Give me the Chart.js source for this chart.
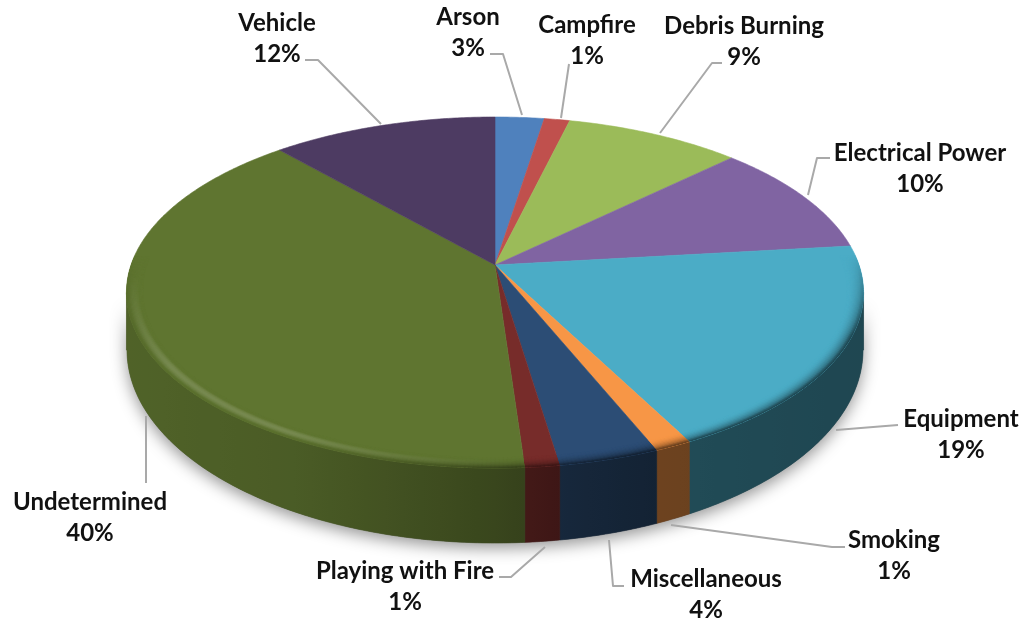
<!DOCTYPE html>
<html>
<head>
<meta charset="utf-8">
<style>
  html, body { margin: 0; padding: 0; background: #fff; }
  canvas { display: block; }
</style>
<script src="https://cdn.jsdelivr.net/npm/chart.js@4"></script>
</head>
<body>
<canvas id="chart" width="1028" height="622"></canvas>
<script>
const categories = ['Arson', 'Campfire', 'Debris Burning', 'Electrical Power', 'Equipment', 'Smoking', 'Miscellaneous', 'Playing with Fire', 'Undetermined', 'Vehicle'];
const shares = [2.5, 1.3, 9, 10.4, 19.2, 1.4, 3.8, 1.3, 39.6, 11.5];
const percentLabels = ['3%', '1%', '9%', '10%', '19%', '1%', '4%', '1%', '40%', '12%'];

const sliceColors = ['#4f81bd', '#c0504d', '#9bbb59', '#8064a2', '#4bacc6', '#f79646', '#2c4d75', '#772c2a', '#5f7530', '#4d3b62'];

// label centre x, baseline of the first line, then the leader polyline
const labelLayout = [
    { x: 468, y: 25, line: [[490, 54], [503, 54], [522, 115]] },
    { x: 587, y: 33, line: [[569, 64], [561, 118]] },
    { x: 744, y: 34, line: [[722, 63], [712, 63], [660, 133]] },
    { x: 920, y: 161, line: [[830, 158], [817, 158], [808, 195]] },
    { x: 961, y: 427, line: [[898, 425], [836, 430]] },
    { x: 894, y: 548, line: [[845, 547], [832, 547], [671, 525]] },
    { x: 706, y: 587, line: [[624, 586], [613, 586], [609, 540]] },
    { x: 405, y: 579, line: [[499, 577], [511, 577], [545, 547]] },
    { x: 90, y: 510, line: [[146, 483], [146, 416]] },
    { x: 277, y: 31, line: [[305, 60], [318, 60], [381, 124]] }
];

function hexRgb(hex) {
    return [1, 3, 5].map(i => parseInt(hex.substr(i, 2), 16));
}
function mix(a, b, t) {
    return a.map((c, i) => c + (b[i] - c) * t);
}
function css(c) {
    return `rgb(${c.map(Math.round).join(',')})`;
}
function clamp(v) {
    return Math.max(0, Math.min(1, v));
}

// perspective of the tilted disc: unit circle to screen
const persp = { a: 0.646, c: -0.1567, sx: 1.3736 };
const floorEllipse = { cy: 350, rx: 368, ry: 193 };
const frontFrom = 9 * Math.PI / 180;
const frontTo = 171 * Math.PI / 180;

function project(arc, angle, r) {
    const u = Math.cos(angle) * r, v = Math.sin(angle) * r;
    const w = 1 + persp.c * v;
    return [arc.x + arc.outerRadius * persp.sx * u / w, arc.y + arc.outerRadius * persp.a * v / w];
}
function floorPoint(arc, angle) {
    const p = project(arc, angle, 1);
    const d = clamp(Math.abs(p[0] - arc.x) / floorEllipse.rx);
    return [p[0], floorEllipse.cy + floorEllipse.ry * Math.sqrt(1 - d * d)];
}
function sampleAngles(from, to) {
    const n = Math.max(2, Math.ceil((to - from) / 0.01));
    const out = [];
    for (let i = 0; i <= n; i++) out.push(from + (to - from) * i / n);
    return out;
}
function wallShade(x) {
    // side wall brightness read across the picture
    const stops = [[127, 0.84], [300, 0.78], [450, 0.64], [530, 0.56], [570, 0.5], [660, 0.44], [863, 0.41]];
    for (let i = 1; i < stops.length; i++) {
        if (x <= stops[i][0]) {
            const t = (x - stops[i - 1][0]) / (stops[i][0] - stops[i - 1][0]);
            return stops[i - 1][1] + (stops[i][1] - stops[i - 1][1]) * clamp(t);
        }
    }
    return 0.41;
}

function drawWall(ctx, arc, color) {
    const from = Math.max(arc.startAngle, frontFrom), to = Math.min(arc.endAngle, frontTo);
    if (to <= from) return;
    const angles = sampleAngles(from, to);
    const base = hexRgb(color);
    const grad = ctx.createLinearGradient(127, 0, 863, 0);
    for (let i = 0; i <= 40; i++) {
        const x = 127 + 736 * i / 40;
        grad.addColorStop(i / 40, css(base.map(c => c * wallShade(x))));
    }
    ctx.beginPath();
    angles.forEach((a, i) => {
        const p = project(arc, a, 1);
        if (i) ctx.lineTo(p[0], p[1]); else ctx.moveTo(p[0], p[1]);
    });
    angles.slice().reverse().forEach(a => {
        const p = floorPoint(arc, a);
        ctx.lineTo(p[0], p[1]);
    });
    ctx.closePath();
    ctx.fillStyle = grad;
    ctx.strokeStyle = grad;
    ctx.lineWidth = 0.6;
    ctx.fill();
    ctx.stroke();
}

function slicePath(ctx, arc) {
    ctx.beginPath();
    const c = project(arc, 0, 0);
    ctx.moveTo(c[0], c[1]);
    sampleAngles(arc.startAngle, arc.endAngle).forEach(a => {
        const p = project(arc, a, 1);
        ctx.lineTo(p[0], p[1]);
    });
    ctx.closePath();
}

function drawRim(ctx, arc, color) {
    const base = hexRgb(color);
    const rings = 14;
    ctx.save();
    slicePath(ctx, arc);
    ctx.clip();
    ctx.lineWidth = 1.7;
    ctx.lineCap = 'round';
    const angles = sampleAngles(arc.startAngle, arc.endAngle);
    for (let k = 0; k <= rings; k++) {
        const t = k / rings;
        const r = 0.958 + 0.042 * t;
        for (let i = 1; i < angles.length; i += 1) {
            const mid = angles[i];
            const u = Math.cos(mid), v = Math.sin(mid);
            const front = clamp((v + 0.05) / 0.45);
            if (front <= 0) continue;
            const hi = clamp((-u + 0.05) / 0.55) * clamp((v - 0.05) / 0.5);
            const bump = Math.sin(Math.PI * clamp((t - 0.2) / 0.7));
            const p0 = project(arc, angles[i - 1], r), p1 = project(arc, mid, r);
            const wallCol = base.map(c => c * wallShade(p1[0]));
            let col = mix(base, [255, 255, 255], 0.17 * hi * bump);
            const dark = front * (t * t) * (1 - hi * 0.75);
            col = mix(col, wallCol, dark * (t > 0.85 ? 1 : 0.9));
            ctx.strokeStyle = css(col);
            ctx.beginPath();
            ctx.moveTo(p0[0], p0[1]);
            ctx.lineTo(p1[0], p1[1]);
            ctx.stroke();
        }
    }
    ctx.restore();
}

const pie3d = {
    id: 'pie3d',
    beforeDatasetsDraw(chart) {
        const ctx = chart.ctx;
        const arcs = chart.getDatasetMeta(0).data;
        const colors = chart.data.datasets[0].backgroundColor;
        const first = arcs[0];

        // soft drop shadow under the whole base
        ctx.save();
        ctx.shadowColor = 'rgba(0,0,0,0.42)';
        ctx.shadowBlur = 16;
        ctx.shadowOffsetY = 5;
        ctx.fillStyle = '#555';
        ctx.beginPath();
        const front = sampleAngles(frontFrom, frontTo);
        front.forEach((a, i) => {
            const p = project(first, a, 1);
            if (i) ctx.lineTo(p[0], p[1]); else ctx.moveTo(p[0], p[1]);
        });
        front.slice().reverse().forEach(a => {
            const p = floorPoint(first, a);
            ctx.lineTo(p[0], p[1]);
        });
        ctx.closePath();
        ctx.fill();
        ctx.restore();

        arcs.forEach((arc, i) => drawWall(ctx, arc, colors[i]));
        arcs.forEach((arc, i) => {
            slicePath(ctx, arc);
            ctx.fillStyle = colors[i];
            ctx.strokeStyle = colors[i];
            ctx.lineWidth = 0.6;
            ctx.fill();
            ctx.stroke();
        });
        arcs.forEach((arc, i) => drawRim(ctx, arc, colors[i]));
        return false;
    },
    afterDraw(chart) {
        const ctx = chart.ctx;
        ctx.save();
        ctx.lineJoin = 'round';
        labelLayout.forEach((lab, i) => {
            ctx.strokeStyle = '#a9a9a9';
            ctx.lineWidth = 2;
            ctx.beginPath();
            lab.line.forEach((p, k) => {
                if (k) ctx.lineTo(p[0], p[1]); else ctx.moveTo(p[0], p[1]);
            });
            ctx.stroke();

            ctx.fillStyle = '#111';
            ctx.font = 'bold 24px Lato, "Open Sans", sans-serif';
            ctx.textAlign = 'center';
            ctx.textBaseline = 'alphabetic';
            ctx.fillText(chart.data.labels[i], lab.x, lab.y);
            ctx.fillText(percentLabels[i], lab.x, lab.y + 31);
        });
        ctx.restore();
    }
};

new Chart(document.getElementById('chart').getContext('2d'), {
    type: 'pie',
    data: {
        labels: categories,
        datasets: [{
            data: shares,
            backgroundColor: sliceColors,
            borderWidth: 0
        }]
    },
    options: {
        responsive: false,
        animation: false,
        layout: { padding: { left: 0, top: 0, right: 38, bottom: 92 } },
        plugins: {
            legend: { display: false },
            tooltip: { enabled: false }
        }
    },
    plugins: [pie3d]
});
</script>
</body>
</html>
